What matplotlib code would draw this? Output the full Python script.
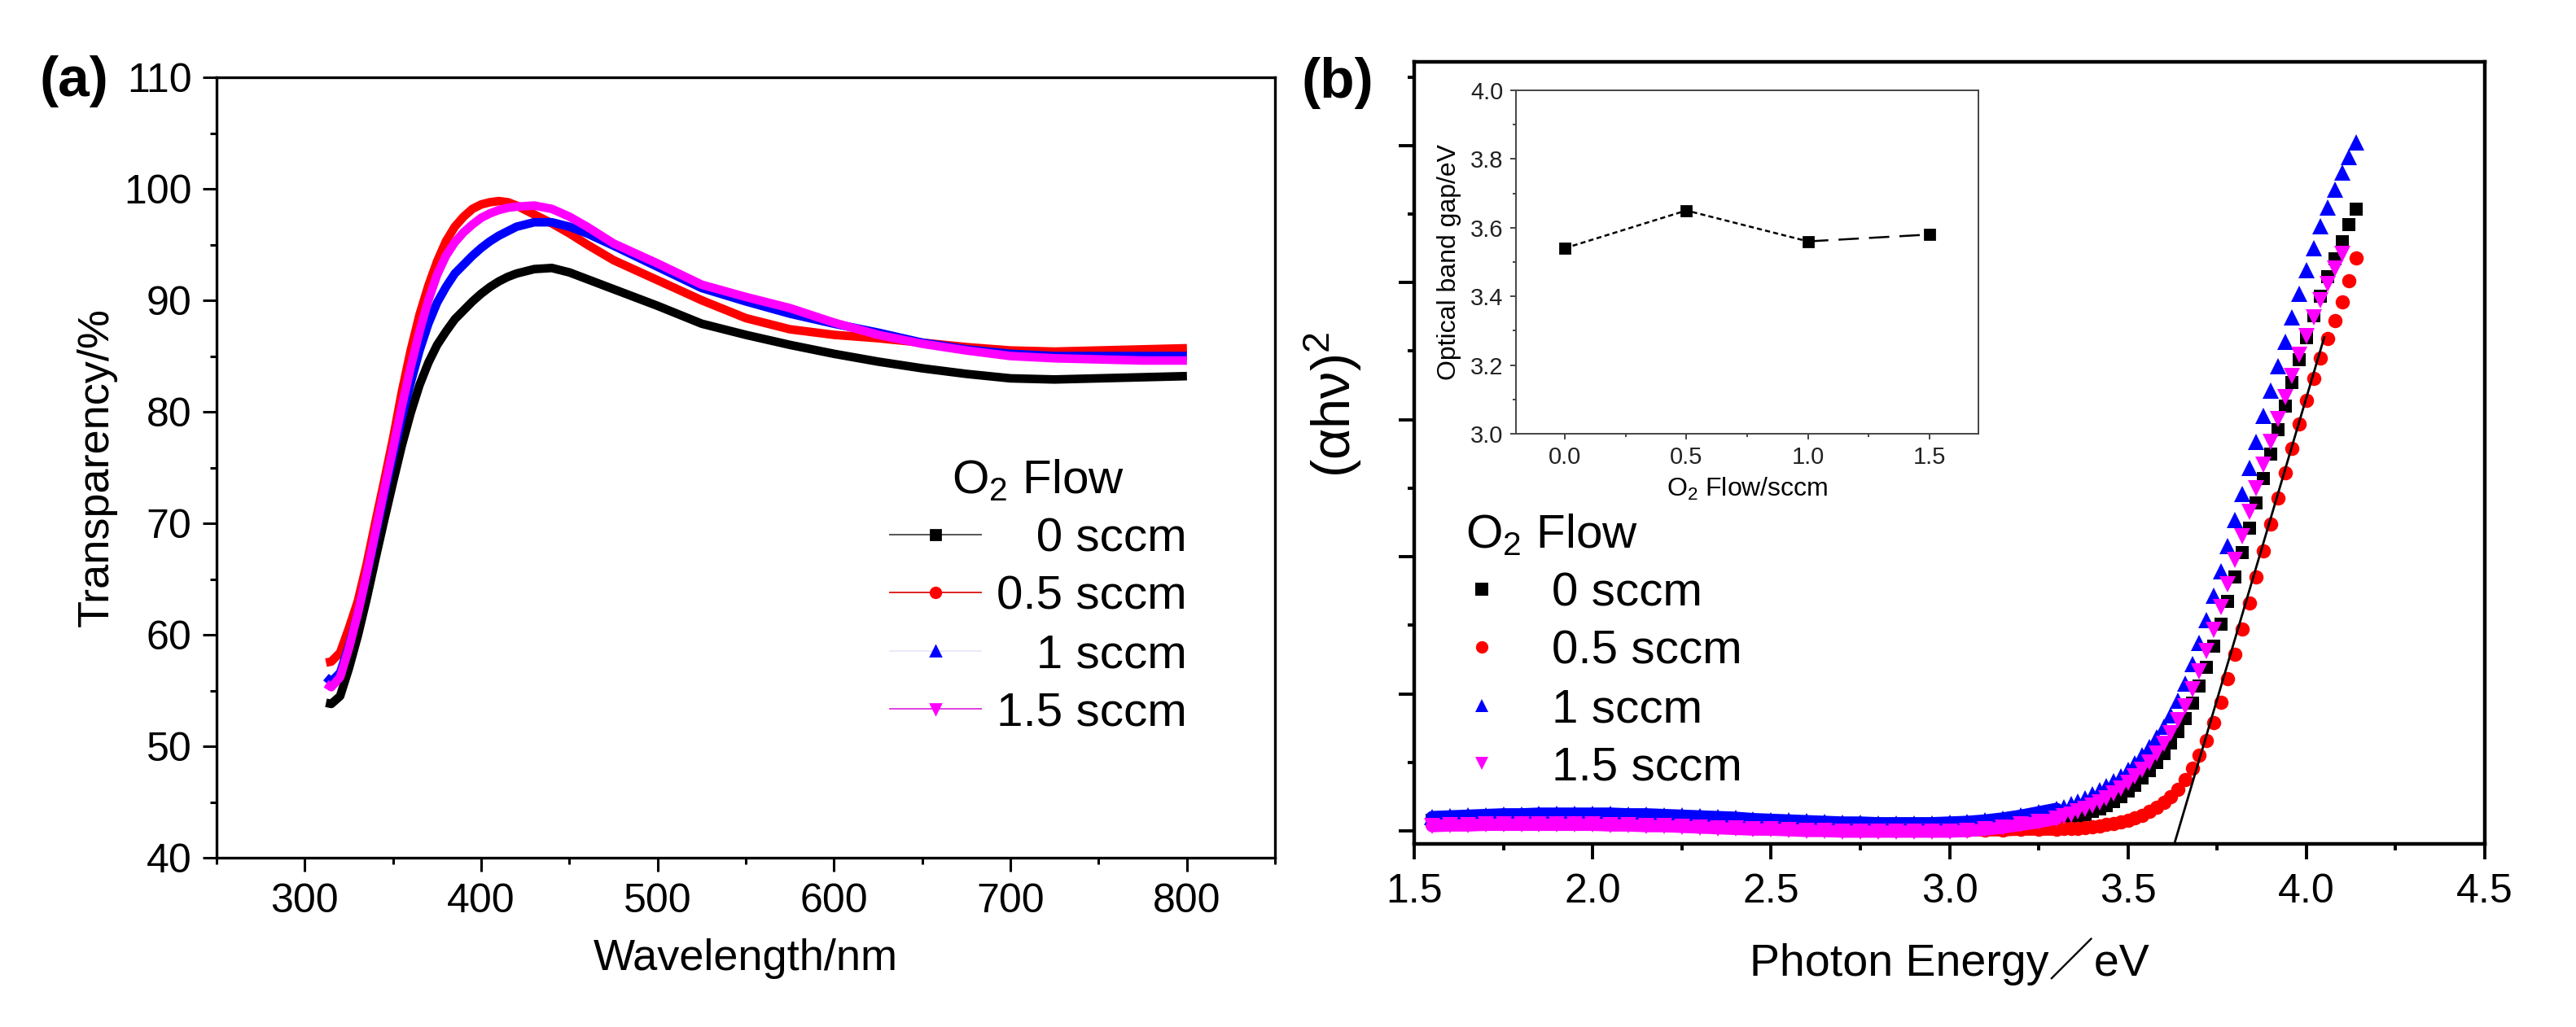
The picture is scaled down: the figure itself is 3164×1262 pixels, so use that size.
import matplotlib
matplotlib.use("Agg")
import matplotlib.pyplot as plt
import numpy as np
from matplotlib.lines import Line2D
from matplotlib.ticker import MultipleLocator, NullFormatter, FormatStrFormatter

plt.rcParams['font.family'] = ['Liberation Sans', 'Noto Sans CJK SC', 'DejaVu Sans']
plt.rcParams['mathtext.fontset'] = 'custom'
plt.rcParams['mathtext.rm'] = 'Liberation Sans'
plt.rcParams['mathtext.it'] = 'Liberation Sans:italic'

# ---- (a) transmittance spectra ----
wavelength = [312, 315, 320, 325, 330, 335, 340, 345, 350, 355, 360, 365, 370, 375,
              380, 385, 390, 395, 400, 405, 410, 415, 420, 430, 440, 450, 460, 475,
              500, 525, 550, 575, 600, 625, 650, 675, 700, 725, 750, 775, 800]
trans_0 = [53.9, 53.8, 54.5, 57.0, 59.9, 63.2, 66.8, 70.3, 73.7, 77.0, 79.9, 82.4, 84.4, 86.0,
           87.2, 88.3, 89.1, 89.9, 90.6, 91.2, 91.7, 92.1, 92.4, 92.8, 92.9, 92.5, 91.9, 91.0,
           89.5, 87.9, 86.9, 86.0, 85.2, 84.5, 83.9, 83.4, 83.0, 82.9, 83.0, 83.1, 83.2]
trans_05 = [57.5, 57.6, 58.4, 60.6, 63.0, 66.3, 70.1, 73.8, 77.6, 81.8, 85.5, 88.7, 91.3, 93.5,
            95.3, 96.6, 97.5, 98.2, 98.6, 98.8, 98.9, 98.8, 98.5, 97.7, 96.9, 96.0, 95.0, 93.6,
            91.8, 90.0, 88.4, 87.4, 86.9, 86.6, 86.2, 85.8, 85.5, 85.4, 85.5, 85.6, 85.7]
trans_1 = [56.2, 55.8, 56.6, 59.0, 61.9, 65.3, 68.9, 72.6, 76.1, 79.5, 82.6, 85.5, 87.9, 89.8,
           91.2, 92.4, 93.2, 94.0, 94.7, 95.3, 95.8, 96.2, 96.6, 97.0, 97.0, 96.6, 96.0, 94.9,
           93.0, 91.1, 89.9, 88.8, 87.9, 87.1, 86.2, 85.6, 85.2, 85.0, 85.0, 85.0, 85.0]
trans_15 = [55.6, 55.3, 56.2, 58.8, 61.9, 65.4, 69.2, 73.0, 76.7, 80.5, 84.0, 87.2, 90.0, 92.3,
            94.0, 95.2, 96.1, 96.8, 97.4, 97.8, 98.1, 98.3, 98.4, 98.5, 98.2, 97.5, 96.6, 95.1,
            93.3, 91.4, 90.3, 89.3, 88.0, 86.9, 86.1, 85.5, 85.0, 84.8, 84.7, 84.6, 84.6]

# ---- (b) Tauc plot, arbitrary units ----
energy = [1.55, 1.60, 1.65, 1.70, 1.75, 1.80, 1.85, 1.90, 1.95, 2.00, 2.05, 2.10, 2.15, 2.20,
          2.25, 2.30, 2.35, 2.40, 2.45, 2.50, 2.55, 2.60, 2.65, 2.70, 2.75, 2.80, 2.85, 2.90,
          2.95, 3.00, 3.05, 3.10, 3.15, 3.20, 3.25,
          3.30, 3.32, 3.34, 3.36, 3.38, 3.40, 3.42, 3.44, 3.46, 3.48, 3.50, 3.52, 3.54, 3.56,
          3.58, 3.60, 3.62, 3.64, 3.66, 3.68, 3.70, 3.72, 3.74, 3.76, 3.78, 3.80, 3.82, 3.84,
          3.86, 3.88, 3.90, 3.92, 3.94, 3.96, 3.98, 4.00, 4.02, 4.04, 4.06, 4.08, 4.10, 4.12,
          4.14]
N_FLAT = 36  # points up to 3.30 eV, where the curves sit on the baseline
tauc_0 = [0.15, 0.16, 0.17, 0.18, 0.19, 0.19, 0.20, 0.20, 0.20, 0.20, 0.19, 0.19, 0.18, 0.17,
          0.16, 0.15, 0.14, 0.13, 0.11, 0.10, 0.09, 0.08, 0.07, 0.06, 0.06, 0.05, 0.05, 0.05,
          0.05, 0.06, 0.07, 0.08, 0.09, 0.11, 0.12,
          0.14, 0.16, 0.18, 0.21, 0.24, 0.28, 0.32, 0.37, 0.43, 0.50, 0.58, 0.67, 0.77, 0.88,
          1.00, 1.13, 1.28, 1.45, 1.64, 1.86, 2.11, 2.39, 2.69, 3.01, 3.35, 3.70, 4.06, 4.42,
          4.78, 5.14, 5.50, 5.85, 6.20, 6.54, 6.87, 7.20, 7.51, 7.80, 8.08, 8.35, 8.60, 8.84,
          9.07]
tauc_05 = [0.10, 0.11, 0.12, 0.12, 0.13, 0.13, 0.13, 0.13, 0.13, 0.13, 0.13, 0.12, 0.12, 0.11,
           0.10, 0.09, 0.08, 0.07, 0.06, 0.05, 0.04, 0.03, 0.02, 0.02, 0.01, 0.01, 0.01, 0.01,
           0.01, 0.01, 0.01, 0.01, 0.01, 0.02, 0.02,
           0.02, 0.03, 0.03, 0.04, 0.05, 0.06, 0.07, 0.09, 0.11, 0.13, 0.16, 0.19, 0.23, 0.28,
           0.34, 0.41, 0.50, 0.61, 0.75, 0.91, 1.10, 1.32, 1.58, 1.88, 2.22, 2.58, 2.95, 3.33,
           3.71, 4.09, 4.47, 4.85, 5.22, 5.58, 5.94, 6.28, 6.60, 6.90, 7.18, 7.45, 7.72, 8.02,
           8.36]
tauc_1 = [0.20, 0.21, 0.22, 0.23, 0.24, 0.24, 0.25, 0.25, 0.25, 0.25, 0.25, 0.24, 0.24, 0.23,
          0.22, 0.21, 0.20, 0.19, 0.17, 0.16, 0.15, 0.14, 0.13, 0.12, 0.12, 0.11, 0.11, 0.11,
          0.11, 0.12, 0.13, 0.15, 0.18, 0.22, 0.27,
          0.32, 0.35, 0.39, 0.43, 0.48, 0.53, 0.59, 0.65, 0.72, 0.80, 0.89, 0.99, 1.10, 1.22,
          1.36, 1.52, 1.69, 1.90, 2.15, 2.43, 2.74, 3.07, 3.43, 3.79, 4.16, 4.54, 4.92, 5.30,
          5.68, 6.06, 6.42, 6.78, 7.14, 7.49, 7.84, 8.18, 8.50, 8.82, 9.10, 9.36, 9.60, 9.83,
          10.05]
tauc_15 = [0.07, 0.08, 0.08, 0.09, 0.09, 0.09, 0.09, 0.09, 0.09, 0.09, 0.08, 0.08, 0.07, 0.07,
           0.06, 0.05, 0.04, 0.03, 0.02, 0.02, 0.01, 0.00, 0.00, -0.01, -0.01, -0.01, -0.01, -0.01,
           -0.01, -0.01, 0.00, 0.02, 0.05, 0.09, 0.13,
           0.18, 0.21, 0.24, 0.28, 0.32, 0.37, 0.42, 0.48, 0.55, 0.62, 0.70, 0.79, 0.89, 1.00,
           1.13, 1.27, 1.43, 1.61, 1.82, 2.06, 2.33, 2.62, 2.93, 3.26, 3.60, 3.95, 4.30, 4.65,
           5.00, 5.34, 5.68, 6.01, 6.33, 6.64, 6.94, 7.22, 7.49, 7.74, 7.98, 8.20, 8.42, np.nan,
           np.nan]
tangent_e = [3.63, 4.05]
tangent_y = [-0.19, 7.2]

# ---- inset: band gap vs O2 flow ----
flow = [0.0, 0.5, 1.0, 1.5]
band_gap = [3.54, 3.65, 3.56, 3.58]

labels_a = ["   0 sccm", "0.5 sccm", "   1 sccm", "1.5 sccm"]
labels_b = ["0 sccm", "0.5 sccm", "1 sccm", "1.5 sccm"]
colors = ["#000000", "#ff0000", "#0000ff", "#ff00ff"]
legend_line_colors = ["#555555", "#dd2222", "#e8eaf6", "#e040e0"]
markers = ["s", "o", "^", "v"]
msizes = [5.5, 6.3, 7.0, 7.0]

fig = plt.figure(figsize=(15.82, 6.31), dpi=200)
ax_a = fig.add_axes([0.0841, 0.1648, 0.4109, 0.7599])
ax_b = fig.add_axes([0.549, 0.1783, 0.4156, 0.7615])

# (a)
for ys, c in zip([trans_0, trans_05, trans_1, trans_15], colors):
    ax_a.plot(wavelength, ys, color=c, lw=3.8, solid_capstyle="butt")
ax_a.set_xlim(250, 850)
ax_a.set_ylim(40, 110)
ax_a.xaxis.set_major_locator(MultipleLocator(100))
ax_a.xaxis.set_minor_locator(MultipleLocator(50))
ax_a.yaxis.set_major_locator(MultipleLocator(10))
ax_a.yaxis.set_minor_locator(MultipleLocator(5))
ax_a.tick_params(which="both", direction="out", width=1.1, labelsize=18, pad=5)
ax_a.tick_params(which="major", length=6)
ax_a.tick_params(which="minor", length=3)
for sp in ax_a.spines.values():
    sp.set_linewidth(1.2)
ax_a.set_xlabel("Wavelength/nm", fontsize=19.5, labelpad=8)
ax_a.set_ylabel("Transparency/%", fontsize=19.5, labelpad=3)

handles_a = [Line2D([], [], color=lc, lw=0.7, marker=m, ms=4.5, mfc=c, mec=c)
             for lc, c, m in zip(legend_line_colors, colors, markers)]
ax_a.legend(handles_a, labels_a, loc="upper left", bbox_to_anchor=(0.627, 0.5245),
            frameon=False, fontsize=21, title="O$_2$ Flow", title_fontsize=21,
            handlelength=1.93, handletextpad=0.31, labelspacing=0.30,
            borderpad=0.2, borderaxespad=0)

# (b)
for ys, c, m, ms in zip([tauc_0, tauc_05, tauc_1, tauc_15], colors, markers, msizes):
    ax_b.plot(energy[:N_FLAT], ys[:N_FLAT], color=c, lw=5.5, solid_capstyle="round")
    ax_b.plot(energy, ys, ls="none", marker=m, ms=ms, mew=0, color=c)
ax_b.plot(tangent_e, tangent_y, color="black", lw=1.0)
ax_b.set_xlim(1.5, 4.5)
ax_b.set_ylim(-0.19, 11.22)
ax_b.xaxis.set_major_locator(MultipleLocator(0.5))
ax_b.xaxis.set_minor_locator(MultipleLocator(0.25))
ax_b.set_yticks([0, 2, 4, 6, 8, 10])
ax_b.set_yticks([1, 3, 5, 7, 9, 11], minor=True)
ax_b.yaxis.set_major_formatter(NullFormatter())
ax_b.tick_params(which="both", direction="out", width=1.4, labelsize=18, pad=6)
ax_b.tick_params(which="major", length=6.8)
ax_b.tick_params(which="minor", length=2.8)
for sp in ax_b.spines.values():
    sp.set_linewidth(1.6)
ax_b.set_xlabel("Photon Energy\uff0feV", fontsize=20, labelpad=12)
ax_b.set_ylabel("(\u03b1h\u03bd)$^2$", fontsize=24)
ax_b.yaxis.set_label_coords(-0.047, 0.562)

handles_b = [Line2D([], [], ls="none", marker=m, ms=5.5, mew=0, color=c)
             for c, m in zip(colors, markers)]
ax_b.legend(handles_b, labels_b, loc="upper left", bbox_to_anchor=(0.0388, 0.436),
            frameon=False, fontsize=21, title="O$_2$ Flow", title_fontsize=21,
            alignment="left", handlelength=0.7, handletextpad=1.12, labelspacing=0.30,
            borderpad=0.2, borderaxespad=0)

# inset
ax_in = fig.add_axes([0.5885, 0.5777, 0.1795, 0.3344])
ax_in.plot(flow[:3], band_gap[:3], color="black", lw=0.9, dashes=(2.5, 1.6))
ax_in.plot(flow[2:], band_gap[2:], color="black", lw=0.9, dashes=(10, 5))
ax_in.plot(flow, band_gap, ls="none", marker="s", ms=4, color="black")
ax_in.set_xlim(-0.2, 1.7)
ax_in.set_ylim(3.0, 4.0)
ax_in.set_xticks(flow)
ax_in.xaxis.set_major_formatter(FormatStrFormatter("%.1f"))
ax_in.xaxis.set_minor_locator(MultipleLocator(0.25))
ax_in.yaxis.set_major_locator(MultipleLocator(0.2))
ax_in.yaxis.set_minor_locator(MultipleLocator(0.1))
ax_in.yaxis.set_major_formatter(FormatStrFormatter("%.1f"))
ax_in.tick_params(which="both", direction="out", width=0.7, colors="#444444",
                  labelcolor="#222222", labelsize=10.5, pad=3)
ax_in.tick_params(which="major", length=2.5)
ax_in.tick_params(which="minor", length=1.6)
for sp in ax_in.spines.values():
    sp.set_linewidth(0.7)
    sp.set_color("#444444")
ax_in.set_xlabel("O$_2$ Flow/sccm", fontsize=11.5, labelpad=3)
ax_in.set_ylabel("Optical band gap/eV", fontsize=11.5, labelpad=4)

fig.text(0.0288, 0.921, "(a)", fontsize=25, fontweight="bold", ha="center", va="center")
fig.text(0.5193, 0.919, "(b)", fontsize=25, fontweight="bold", ha="center", va="center")

fig.savefig("out.png", dpi=200)
